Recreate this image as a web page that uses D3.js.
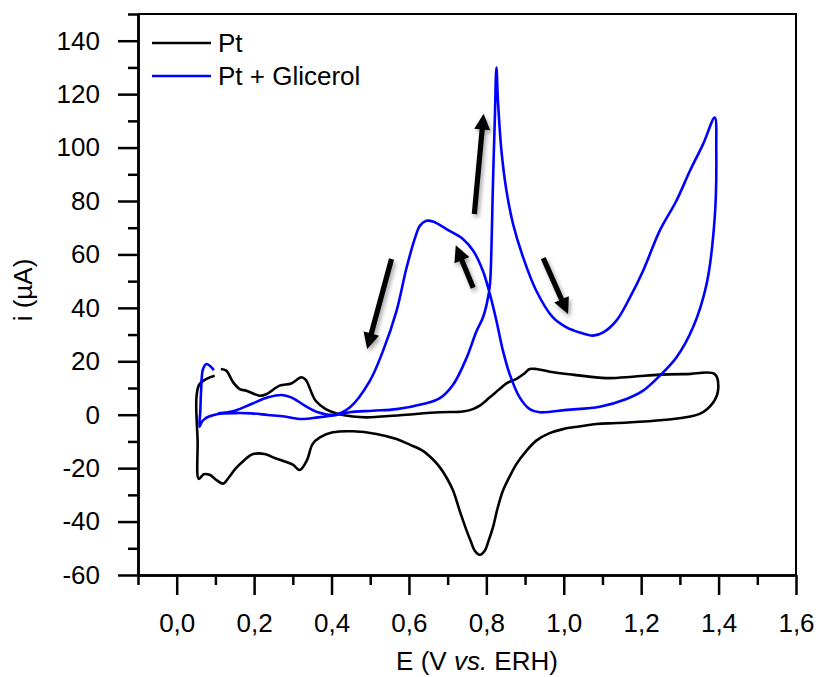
<!DOCTYPE html>
<html>
<head>
<meta charset="utf-8">
<script src="https://cdn.jsdelivr.net/npm/d3@7/dist/d3.min.js"></script>
<style>
  body { margin: 0; background: #fff; }
  svg text { font-family: "Liberation Sans", Arial, sans-serif; fill: #000; }
</style>
</head>
<body>
<svg id="cv" width="816" height="677"></svg>
<script>
// voltammogram values (E in V vs ERH, i in uA)
var ptE = [0.114,0.128,0.146,0.163,0.180,0.215,0.232,0.266,0.296,0.322,0.333,0.359,0.385,0.413,0.455,0.491,0.576,0.680,0.739,0.765,0.783,0.809,0.835,0.855,0.878,0.897,0.912,0.929,0.964,1.023,1.110,1.178,1.248,1.318,1.390,1.399,1.386,1.351,1.256,1.137,1.085,1.040,0.998,0.962,0.929,0.903,0.878,0.860,0.843,0.829,0.817,0.805,0.796,0.783,0.770,0.760,0.749,0.731,0.714,0.697,0.680,0.659,0.636,0.602,0.568,0.516,0.455,0.403,0.370,0.351,0.336,0.318,0.300,0.279,0.253,0.227,0.196,0.173,0.152,0.134,0.120,0.103,0.085,0.070,0.057,0.054,0.051,0.058,0.077,0.098];
var ptI = [17.1,16.5,12.1,9.6,9.0,7.1,7.7,10.9,11.7,14.0,13.1,5.2,2.1,0.5,-0.7,-1.0,-0.2,0.9,1.2,2.1,3.4,6.5,9.7,12.0,13.4,15.3,17.1,17.1,16.1,15.0,13.7,14.2,15.0,15.2,15.2,9.6,4.6,0.3,-2.0,-3.1,-3.5,-4.4,-5.4,-7.0,-9.7,-13.6,-18.4,-23.2,-28.4,-35.0,-42.2,-47.5,-50.9,-52.4,-50.9,-47.5,-43.4,-35.9,-28.4,-23.5,-19.7,-16.3,-13.5,-11.2,-9.1,-7.2,-6.2,-6.6,-8.5,-11.0,-17.2,-20.7,-18.7,-17.5,-16.2,-14.7,-14.8,-17.2,-20.2,-23.6,-25.8,-24.5,-22.5,-22.3,-24.0,-9.7,6.4,11.2,13.4,14.6];

var glyE = [0.096,0.090,0.077,0.068,0.063,0.061,0.059,0.065,0.072,0.085,0.107,0.150,0.193,0.235,0.279,0.322,0.365,0.416,0.447,0.506,0.568,0.636,0.680,0.714,0.749,0.774,0.791,0.801,0.809,0.813,0.817,0.822,0.826,0.830,0.839,0.852,0.869,0.895,0.929,0.972,1.007,1.041,1.076,1.102,1.136,1.171,1.205,1.248,1.291,1.326,1.360,1.390,1.394,1.390,1.369,1.334,1.291,1.248,1.205,1.162,1.093,1.007,0.938,0.912,0.886,0.860,0.843,0.826,0.809,0.791,0.766,0.740,0.705,0.662,0.645,0.628,0.619,0.594,0.568,0.533,0.499,0.447,0.408,0.365,0.331,0.296,0.271,0.236,0.193,0.150,0.107];
var glyI = [16.7,17.7,19.0,17.1,9.0,1.5,-4.5,-2.6,-1.6,-0.6,0.3,0.6,0.5,-0.1,-0.7,-1.6,-1.0,0.0,0.9,1.5,2.1,4.0,6.2,11.2,21.3,31.1,36.3,41.5,48.3,61.4,86.3,111.2,130.0,117.5,98.8,83.8,71.4,58.9,46.4,36.4,32.7,30.8,29.6,30.8,35.2,43.9,53.9,68.9,80.1,91.3,101.3,111.2,98.8,73.8,48.9,32.7,21.4,14.6,9.0,5.9,3.0,1.8,0.9,2.1,6.5,15.3,23.9,35.2,45.2,53.9,61.4,65.7,68.8,72.3,72.6,70.7,67.6,55.1,38.9,23.9,12.7,2.7,0.0,0.9,3.4,6.5,7.4,6.5,4.0,1.5,0.5];

// scan direction arrows: [E tail, i tail, E tip, i tip]
var arrows = [
  [0.555, 58.3, 0.492, 24.6],
  [0.766, 47.5, 0.721, 63.4],
  [0.769, 75.1, 0.793, 112.7],
  [0.947, 58.6, 1.011, 37.7]
];

var xMajor = [0.0,0.2,0.4,0.6,0.8,1.0,1.2,1.4,1.6];
var xMinor = [-0.1,0.1,0.3,0.5,0.7,0.9,1.1,1.3,1.5];
var yMajor = [-60,-40,-20,0,20,40,60,80,100,120,140];
var yMinor = [-50,-30,-10,10,30,50,70,90,110,130,150];

var seriesNames = ["Pt", "Pt + Glicerol"];
var seriesColors = ["#000000", "#0000ff"];

var svg = d3.select("#cv");
var fs = 26;

var x = d3.scaleLinear().domain([-0.1, 1.6]).range([138, 796]);
var y = d3.scaleLinear().domain([-60, 150]).range([575, 14]);

var defs = svg.append("defs");
var f = defs.append("filter").attr("id", "shadow")
    .attr("x", "-50%").attr("y", "-50%").attr("width", "200%").attr("height", "200%");
f.append("feDropShadow").attr("dx", 2).attr("dy", 3).attr("stdDeviation", 2)
    .attr("flood-color", "#000").attr("flood-opacity", 0.35);

// frame (top and right)
svg.append("path")
    .attr("d", "M" + x(-0.1) + "," + y(150) + "H" + x(1.6) + "V" + y(-60))
    .attr("fill", "none").attr("stroke", "#000").attr("stroke-width", 2);

var comma = function(d) { return d3.format(".1f")(d).replace(".", ","); };

// x axis
var gx = svg.append("g").attr("transform", "translate(0," + y(-60) + ")");
gx.call(d3.axisBottom(x).tickValues(xMajor).tickSize(20).tickSizeOuter(0).tickPadding(19).tickFormat(comma));
var gx2 = svg.append("g").attr("transform", "translate(0," + y(-60) + ")");
gx2.call(d3.axisBottom(x).tickValues(xMinor).tickSize(10).tickSizeOuter(0).tickFormat(""));

// y axis
var gy = svg.append("g").attr("transform", "translate(" + x(-0.1) + ",0)");
gy.call(d3.axisLeft(y).tickValues(yMajor).tickSize(20).tickSizeOuter(0).tickPadding(18)
    .tickFormat(function(d) { return String(d); }));
var gy2 = svg.append("g").attr("transform", "translate(" + x(-0.1) + ",0)");
gy2.call(d3.axisLeft(y).tickValues(yMinor).tickSize(10).tickSizeOuter(0).tickFormat(""));

svg.selectAll(".domain").attr("stroke-width", 2.5);
svg.selectAll(".tick line").attr("stroke-width", 2.5);
svg.selectAll(".tick text").attr("font-size", fs).attr("font-family", "Liberation Sans, Arial, sans-serif");

// axis titles
var xt = svg.append("text")
    .attr("x", 477).attr("y", 670)
    .attr("text-anchor", "middle").attr("font-size", fs);
xt.append("tspan").text("E (V ");
xt.append("tspan").attr("font-style", "italic").text("vs.");
xt.append("tspan").text(" ERH)");

svg.append("text")
    .attr("transform", "translate(32,290) rotate(-90)")
    .attr("text-anchor", "middle").attr("font-size", fs)
    .text("i (\u00b5A)");

// curves
var line = d3.line()
    .x(function(d) { return x(d[0]); })
    .y(function(d) { return y(d[1]); })
    .curve(d3.curveCatmullRom.alpha(0.5));

var ptData = ptE.map(function(e, k) { return [e, ptI[k]]; });
var glyData = glyE.map(function(e, k) { return [e, glyI[k]]; });

svg.append("path").datum(ptData)
    .attr("d", line).attr("fill", "none")
    .attr("stroke", seriesColors[0]).attr("stroke-width", 2.6).attr("stroke-linejoin", "round");

svg.append("path").datum(glyData)
    .attr("d", line).attr("fill", "none")
    .attr("stroke", seriesColors[1]).attr("stroke-width", 2.6).attr("stroke-linejoin", "round");

// arrows
var ga = svg.append("g").attr("filter", "url(#shadow)");
arrows.forEach(function(a) {
  var x0 = x(a[0]), y0 = y(a[1]), x1 = x(a[2]), y1 = y(a[3]);
  var dx = x1 - x0, dy = y1 - y0, len = Math.sqrt(dx * dx + dy * dy);
  var ux = dx / len, uy = dy / len, nx = -uy, ny = ux;
  var hl = 16, hw = 8, sw = 2.6;
  var bx = x1 - ux * hl, by = y1 - uy * hl;
  var pts = [
    [x0 + nx * sw, y0 + ny * sw],
    [bx + nx * sw, by + ny * sw],
    [bx + nx * hw, by + ny * hw],
    [x1, y1],
    [bx - nx * hw, by - ny * hw],
    [bx - nx * sw, by - ny * sw],
    [x0 - nx * sw, y0 - ny * sw]
  ];
  ga.append("path").attr("d", "M" + pts.join("L") + "Z").attr("fill", "#000");
});

// legend
var lg = svg.append("g");
seriesNames.forEach(function(name, k) {
  var ly = 43 + k * 33;
  lg.append("line").attr("x1", 152).attr("x2", 211).attr("y1", ly).attr("y2", ly)
      .attr("stroke", seriesColors[k]).attr("stroke-width", 2.6);
  lg.append("text").attr("x", 218).attr("y", ly + 8.5).attr("font-size", fs).text(name);
});
</script>
</body>
</html>
